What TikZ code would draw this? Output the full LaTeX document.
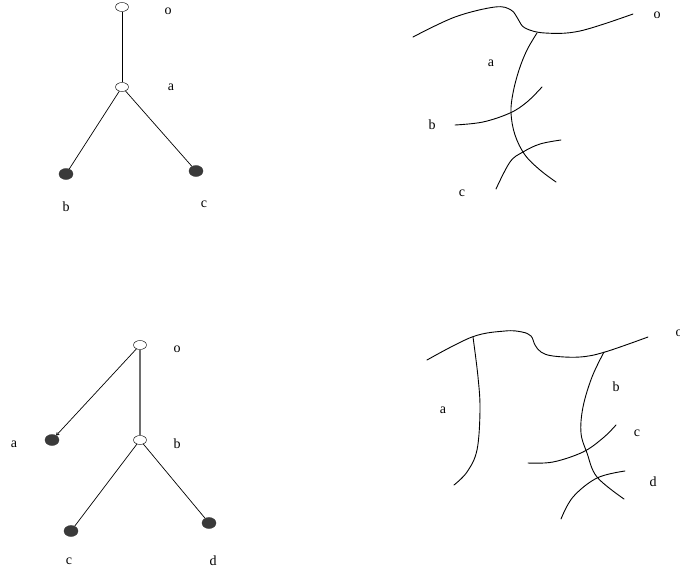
\documentclass[tikz,border=0pt]{standalone}
\usepackage{fontspec}
\setmainfont{Liberation Serif}
\definecolor{nDark}{HTML}{3A3A3A}
\definecolor{nGray}{HTML}{6E6E6E}
\usetikzlibrary{arrows.meta, shapes.geometric}

\begin{document}
\begin{tikzpicture}[x=1pt, y=-1pt,
  open/.style={draw, ellipse, inner sep=0pt, minimum width=13pt, minimum height=9pt},
  leaf/.style={draw=nDark, fill=nDark, ellipse, inner sep=0pt,
               minimum width=14pt, minimum height=11pt},
  lab/.style={font=\fontsize{14}{16}\selectfont, inner sep=0pt},
  edge/.style={line width=0.7pt},
  curve/.style={line width=0.9pt, line cap=round}]
  \useasboundingbox (0,0) rectangle (680,576);

  % upper tree
  \node[open] (o1) at (122,7)   {};
  \node[open] (a1) at (122,87)  {};
  \node[leaf] (b1) at (66,174)  {};
  \node[leaf] (c1) at (196,171) {};
  \foreach \u/\v in {o1/a1, a1/b1, a1/c1}{\draw[edge] (\u) -- (\v);}
  \node[lab] (lo1) at (168,11)  {o};
  \node[lab] (la1) at (171,87)  {a};
  \node[lab] (lb1) at (66,207)  {b};
  \node[lab] (lc1) at (204,204) {c};

  % upper curves
  \draw[curve] plot[smooth, tension=0.6] coordinates {(413,37) (455,17) (495,7)
    (511,10) (518,19) (525,28) (545,33) (580,31) (633,14)};
  \draw[curve] plot[smooth, tension=0.6] coordinates {(537,33) (527,50) (519,70)
    (513,93) (511,113) (515,135) (525,155) (540,170) (556,182)};
  \draw[curve] plot[smooth, tension=0.6] coordinates {(455,125) (483,122) (510,113)
    (527,102) (542,87)};
  \draw[curve] plot[smooth, tension=0.6] coordinates {(496,189) (510,162) (523,152)
    (540,144) (561,140)};
  \node[lab] (lo2) at (657,15)  {o};
  \node[lab] (la2) at (491,63)  {a};
  \node[lab] (lb2) at (432,125) {b};
  \node[lab] (lc2) at (462,193) {c};

  % lower tree
  \node[open] (o3) at (140,345) {};
  \node[leaf] (a3) at (52,440)  {};
  \node[open] (b3) at (140,440) {};
  \node[leaf] (c3) at (71,531)  {};
  \node[leaf] (d3) at (209,523) {};
  \draw[edge, -{To[length=3pt, width=3.5pt]}] (o3) -- (a3);
  \draw[nGray, line width=1.1pt] (o3) -- (b3);
  \foreach \v in {c3, d3}{\draw[edge] (b3) -- (\v);}
  \node[lab] (lo3) at (177,349) {o};
  \node[lab] (la3) at (14,444)  {a};
  \node[lab] (lb3) at (177,444) {b};
  \node[lab] (lc3) at (69,561)  {c};
  \node[lab] (ld3) at (213,561) {d};

  % lower curves
  \draw[curve] plot[smooth, tension=0.6] coordinates {(427,360) (472,337)
    (505,331) (522,332) (531,336) (535,345) (541,352) (553,356)
    (580,357) (605,352) (648,337)};
  \draw[curve] plot[smooth, tension=0.6] coordinates {(473,337) (478,377) (480,410)
    (477,450) (467,472) (454,485)};
  \draw[curve] plot[smooth, tension=0.6] coordinates {(604,352) (592,377) (583,407)
    (581,433) (587,453) (597,477) (624,499)};
  \draw[curve] plot[smooth, tension=0.6] coordinates {(528,463) (553,462) (583,452)
    (603,438) (616,425)};
  \draw[curve] plot[smooth, tension=0.6] coordinates {(561,519) (573,497) (597,478)
    (625,471)};
  \node[lab] (lo4) at (679,333) {o};
  \node[lab] (la4) at (443,410) {a};
  \node[lab] (lb4) at (616,387) {b};
  \node[lab] (lc4) at (637,433) {c};
  \node[lab] (ld4) at (653,482) {d};
\end{tikzpicture}
\end{document}
